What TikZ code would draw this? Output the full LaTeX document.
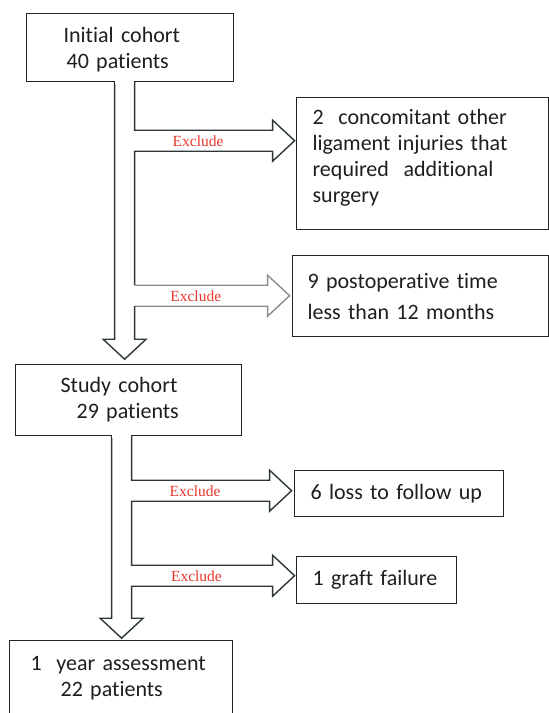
\documentclass[tikz,border=0pt]{standalone}
\usepackage{fontspec}
\setmainfont{Carlito}[Ligatures=NoCommon]
\newfontfamily\exfont{Liberation Serif}
\usepackage{tikz}
\definecolor{boxc}{RGB}{35,35,35}
\definecolor{arrc}{RGB}{45,55,55}
\definecolor{exgray}{RGB}{140,140,140}
\definecolor{exred}{RGB}{232,55,45}
\definecolor{txtc}{RGB}{30,30,30}
\def\exarrow#1#2{-- ++(#1,0) node[excl,pos=0.46,yshift=-10.5pt] (#2) {Exclude} -- ++(0,-10) -- ++(22,20.5) -- ++(-22,20.5) -- ++(0,-10) -- ++(-#1,0)}
\def\downhead{-- ++(11.5,0) -- ++(-21.5,20) -- ++(-21.5,-20) -- ++(11.5,0)}
\tikzset{
  box/.style={draw=boxc, line width=1.2pt, anchor=north west, align=left, inner ysep=0pt,
    text=txtc, font=\fontsize{22}{26}\selectfont},
  excl/.style={text=exred, inner sep=1pt, font=\exfont\fontsize{15.5}{16}\selectfont},
  dk/.style={draw=arrc, line width=1.4pt},
  lt/.style={draw=exgray, line width=1.4pt},
}

\begin{document}
\begin{tikzpicture}[x=1pt,y=-1pt]
\useasboundingbox (0,0) rectangle (549,713);
% boxes
\node[box, minimum height=68, inner xsep=37, text width=133] (init) at (26,13)
  {\rule{0pt}{19pt}Initial cohort\\\hspace*{3pt}40 patients};
\node[box, minimum height=71, inner xsep=45, text width=136] (study) at (15,364)
  {Study cohort\\\hspace*{16pt}29 patients};
\node[box, minimum height=76, inner xsep=21, text width=181] (final) at (9,640)
  {1~~year assessment\\\hspace*{30pt}22 patients};
\node[box, minimum height=132, inner xsep=16, text width=220, font=\fontsize{22}{26}\selectfont] (ex1) at (296,97)
  {2~~concomitant other\\ligament injuries that\\required~~additional\\surgery\rule[-16pt]{0pt}{1pt}};
\node[box, minimum height=81, inner xsep=15, text width=226, font=\fontsize{22}{31}\selectfont] (ex2) at (292,255)
  {9 postoperative time\\less than 12 months};
\node[box, minimum height=46, inner xsep=16, text width=177] (ex3) at (294,470) {6 loss to follow up};
\node[box, minimum height=47, inner xsep=16, text width=128] (ex4) at (296,556) {1 graft failure};

% block arrows
\draw[dk] ([xshift=4.5]init.south) -- ++(0,48) \exarrow{138}{x1} -- ++(0,134) coordinate (g1);
\draw[lt] (g1) \exarrow{133}{x2};
\draw[dk] ([yshift=-21pt]g1) -- ++(0,33) \downhead -- ([xshift=-15.5]init.south);
\draw[dk] ([xshift=3]study.south) -- ++(0,44) \exarrow{138}{x3} -- ++(0,64) \exarrow{141}{x4}
  -- ++(0,32) \downhead -- ([xshift=-17]study.south);

% open the shafts into the boxes
\fill[white] ([xshift=-14.8,yshift=2]init.south) rectangle ([xshift=3.8,yshift=-2]init.south);
\fill[white] ([xshift=-16.3,yshift=2]study.south) rectangle ([xshift=2.3,yshift=-2]study.south);
\end{tikzpicture}
\end{document}
